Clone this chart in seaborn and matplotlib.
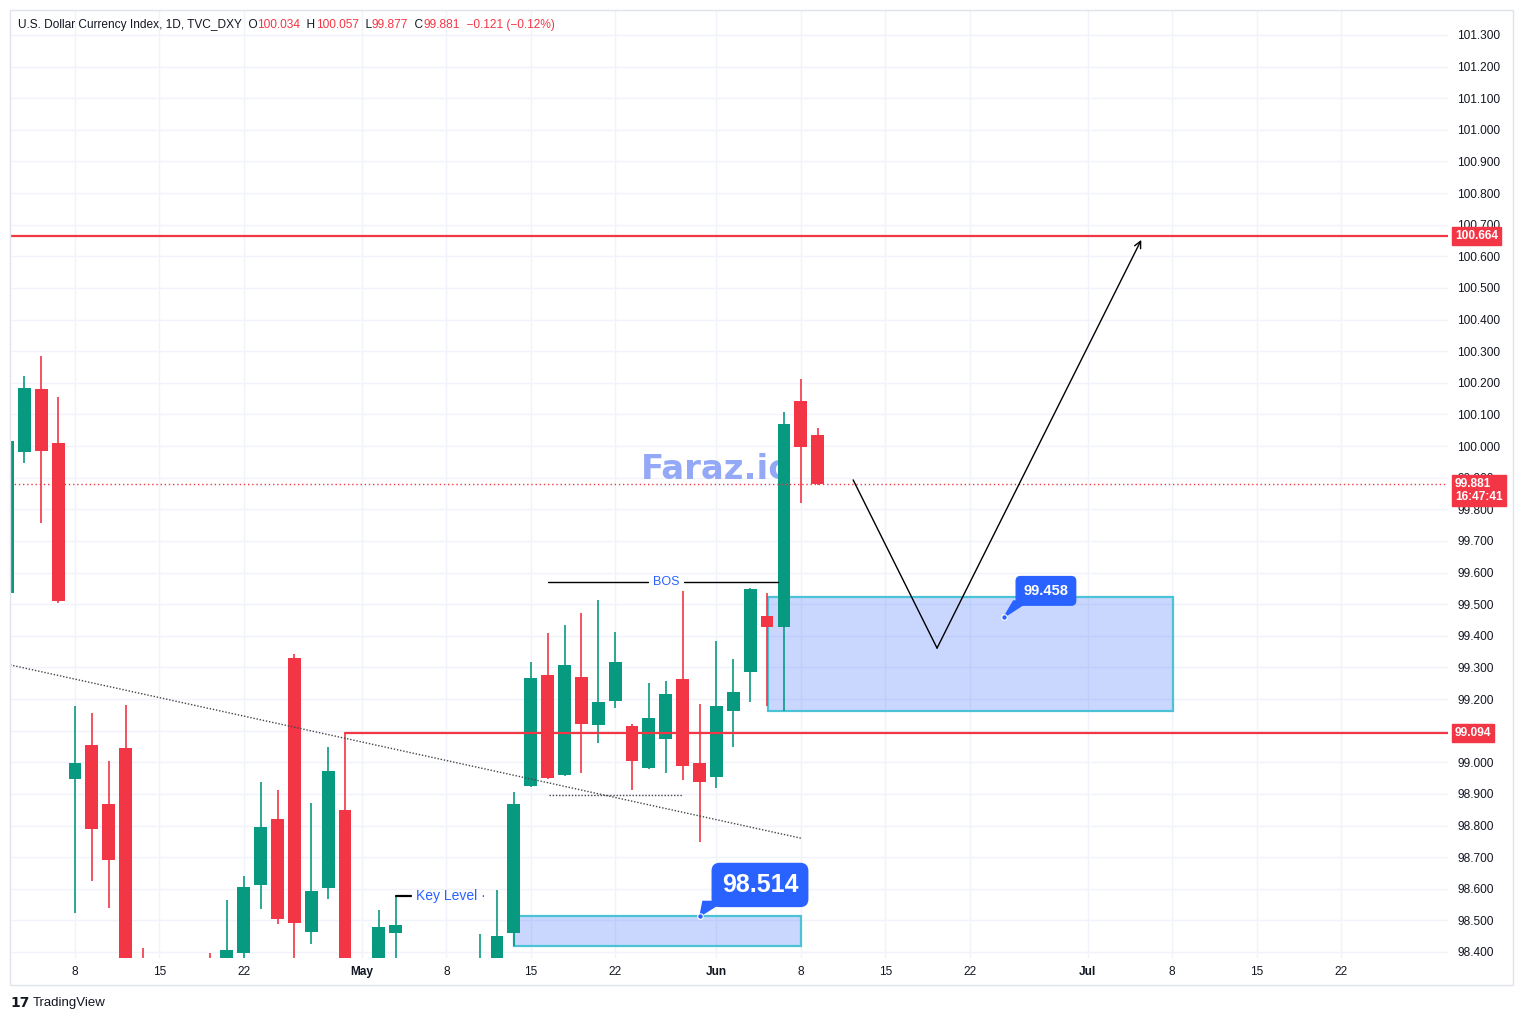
import matplotlib
matplotlib.use("Agg")
import matplotlib.pyplot as plt
import matplotlib.transforms as mtrans
from matplotlib.patches import Rectangle, Polygon
import numpy as np
import pandas as pd
import seaborn as sns

sns.set_style("white")
plt.rcParams['font.family'] = ['Liberation Sans', 'DejaVu Sans']

# ---------------------------------------------------------------------------
# data (bar index 0 = Apr 8, trading days only)
# ---------------------------------------------------------------------------
bar_idx = list(range(-4, 45))
opens = [99.535, 99.982, 100.179, 100.009,
         98.948, 99.054, 98.868, 99.045, 98.300, 97.950, 98.100, 97.950,
         98.300, 98.100, 98.398, 98.613, 98.820, 99.330, 98.464, 98.603,
         98.848, 98.200, 98.250, 98.461, 98.300, 98.100, 98.200, 98.000,
         98.050, 98.200, 98.459, 98.925, 99.276, 98.961, 99.270, 99.119,
         99.195, 99.115, 98.983, 99.075, 99.263, 98.998, 98.954, 99.163,
         99.286, 99.463, 99.429, 100.143, 100.034]
highs = [100.050, 100.222, 100.285, 100.154,
         99.178, 99.157, 99.004, 99.181, 98.412, 98.250, 98.300, 98.200,
         98.397, 98.564, 98.640, 98.937, 98.911, 99.342, 98.870, 99.047,
         99.094, 98.350, 98.533, 98.578, 98.360, 98.300, 98.350, 98.300,
         98.457, 98.596, 98.905, 99.317, 99.410, 99.434, 99.473, 99.513,
         99.413, 99.121, 99.250, 99.257, 99.542, 99.184, 99.383, 99.327,
         99.550, 99.534, 100.108, 100.211, 100.057]
lows = [99.500, 99.945, 99.758, 99.505,
        98.524, 98.625, 98.540, 97.950, 97.850, 97.750, 97.850, 97.700,
        97.900, 98.000, 98.300, 98.535, 98.489, 98.300, 98.425, 98.567,
        98.100, 97.950, 98.150, 98.300, 98.000, 97.900, 97.950, 97.850,
        97.950, 98.100, 98.420, 98.923, 98.946, 98.958, 98.965, 99.062,
        99.173, 98.912, 98.980, 98.967, 98.944, 98.749, 98.920, 99.049,
        99.192, 99.178, 99.162, 99.819, 99.877]
closes = [100.016, 100.183, 99.985, 99.511,
          98.997, 98.790, 98.691, 98.050, 97.950, 98.100, 97.950, 98.050,
          98.050, 98.406, 98.605, 98.794, 98.505, 98.493, 98.592, 98.972,
          98.200, 98.100, 98.478, 98.485, 98.100, 98.200, 98.000, 98.150,
          98.300, 98.450, 98.868, 99.266, 98.951, 99.308, 99.122, 99.191,
          99.317, 99.005, 99.140, 99.216, 98.989, 98.939, 99.178, 99.222,
          99.548, 99.429, 100.070, 99.998, 99.881]

x_tick_pos = [0, 5, 10, 17, 22, 27, 32, 38, 43, 48, 53, 60, 65, 70, 75]
x_tick_labels = ["8", "15", "22", "May", "8", "15", "22", "Jun", "8", "15",
                 "22", "Jul", "8", "15", "22"]
y_ticks = [round(98.4 + 0.1 * k, 1) for k in range(30)]

resistance = 100.664
support = 99.094
last_price = 99.881
bos_level = 99.569
key_level = 98.578
upper_zone = (41.05, 65.05, 99.162, 99.523)
lower_zone = (26.0, 43.0, 98.419, 98.514)
trend_x = [-3.85, 43.0]
trend_y = [99.308, 98.760]
path_x = [46.1, 51.07, 63.17]
path_y = [99.893, 99.361, 100.652]

GREEN = "#089981"
RED = "#F23645"
BLUE = "#2962FF"
TEXT = "#131722"

df = pd.DataFrame({"i": bar_idx, "open": opens, "high": highs,
                   "low": lows, "close": closes})
df["up"] = df["close"] >= df["open"]
df["color"] = np.where(df["up"], GREEN, RED)

# ---------------------------------------------------------------------------
W, H = 1523, 1021
fig = plt.figure(figsize=(W / 100, H / 100), dpi=100)
ax = fig.add_axes([10 / W, 1 - 958 / H, 1438 / W, 948 / H])
ax.set_xlim(-3.85, 81.34)
ax.set_ylim(98.381, 101.379)

# grid
for yv in y_ticks:
    ax.axhline(yv, color="#F0F3FA", lw=1, zorder=0)
for xv in x_tick_pos:
    ax.axvline(xv, color="#F0F3FA", lw=1, zorder=0)

# watermark (sits under the candles)
ax.text(33.5, 99.925, "Faraz.io", color="#93A9F7", fontsize=24.5, weight="bold",
        family=["DejaVu Sans"], ha="left", va="center", zorder=1)

# candles
ax.vlines(df["i"], df["low"], df["high"], colors=df["color"], lw=1.2, zorder=4)
body = (df["close"] - df["open"]).abs().clip(lower=0.004)
ax.bar(df["i"], body, bottom=df[["open", "close"]].min(axis=1), width=0.76,
       color=df["color"], linewidth=0, zorder=4)

# zones
for x0, x1, y0, y1 in [upper_zone, lower_zone]:
    ax.add_patch(Rectangle((x0, y0), x1 - x0, y1 - y0, facecolor=BLUE, alpha=0.25,
                           edgecolor="none", zorder=2))
    ax.add_patch(Rectangle((x0, y0), x1 - x0, y1 - y0, facecolor="none",
                           edgecolor="#4CC2D7", lw=1.6, zorder=3))

# horizontal levels
ax.axhline(resistance, color=RED, lw=1.6, zorder=5)
ax.plot([16, 81.34], [support, support], color=RED, lw=1.6, zorder=5)
ax.axhline(last_price, color=RED, lw=1, ls=(0, (1, 2)), zorder=5)

# trend lines
ax.plot(trend_x, trend_y, color="#444444", lw=1, ls=(0, (1, 1.3)), zorder=5)
ax.plot([28.06, 36.0], [98.898, 98.898], color="#444444", lw=1, ls=(0, (1, 1.3)), zorder=5)

# BOS
ax.plot([28.0, 33.94], [bos_level, bos_level], color="black", lw=1, zorder=5)
ax.plot([36.08, 41.65], [bos_level, bos_level], color="black", lw=1, zorder=5)
ax.text(35.0, bos_level, "BOS", color=BLUE, fontsize=9, ha="center", va="center", zorder=6)

# key level
ax.plot([19.02, 19.9], [key_level, key_level], color="black", lw=1.6, zorder=5)
ax.text(20.2, key_level, "Key Level \u00b7", color=BLUE, fontsize=10, ha="left",
        va="center", zorder=6)

# projected path
ax.plot(path_x[:2], path_y[:2], color="black", lw=1, zorder=6)
ax.annotate("", xy=(path_x[2], path_y[2]), xytext=(path_x[1], path_y[1]),
            arrowprops=dict(arrowstyle="->", color="black", lw=1,
                            shrinkA=0, shrinkB=0, mutation_scale=12), zorder=6)

# callouts
def callout(tx, ty, dot_x, dot_y, base, label, size, pad):
    ax.add_patch(Polygon([(dot_x, dot_y), base[0], base[1]], closed=True,
                         facecolor=BLUE, edgecolor=BLUE, lw=1, zorder=7))
    ax.plot([dot_x], [dot_y], marker="o", ms=4, color=BLUE, mec="white", mew=0.8, zorder=8)
    ax.text(tx, ty, label, color="white", fontsize=size, weight="bold",
            ha="center", va="center", zorder=8,
            bbox=dict(boxstyle="round,pad=%.2f,rounding_size=0.3" % pad, fc=BLUE, ec=BLUE))

callout(57.52, 99.542, 55.04, 99.459, [(55.6, 99.51), (56.5, 99.51)], "99.458", 10.5, 0.5)
callout(40.58, 98.612, 37.03, 98.514, [(37.2, 98.56), (38.4, 98.56)], "98.514", 18, 0.38)

# axes / ticks
for s in ax.spines.values():
    s.set_visible(False)
ax.set_xticks(x_tick_pos)
ax.set_xticklabels(x_tick_labels)
for lab, txt in zip(ax.get_xticklabels(), x_tick_labels):
    if not txt.isdigit():
        lab.set_fontweight("bold")
ax.yaxis.tick_right()
ax.set_yticks(y_ticks)
ax.set_yticklabels(["%.3f" % v for v in y_ticks])
ax.tick_params(axis="both", length=0, labelsize=8.6, colors=TEXT)
ax.tick_params(axis="y", pad=6.5)
ax.tick_params(axis="x", pad=5.5)
ax.set_axisbelow(True)

# price tags on the right axis
tag_tr = mtrans.blended_transform_factory(ax.transAxes, ax.transData)
for val, txt in [(resistance, "100.664"), (support, "99.094"),
                 (last_price - 0.022, "99.881\n16:47:41")]:
    ax.text(1 + 7 / 1438, val, txt, transform=tag_tr, color="white", fontsize=8.6,
            weight="bold", ha="left", va="center", linespacing=1.05, clip_on=False,
            zorder=10, bbox=dict(boxstyle="square,pad=0.25", fc=RED, ec=RED))

# frame
fig.patches.append(Rectangle((10 / W, 1 - 985 / H), 1503 / W, 975 / H,
                             transform=fig.transFigure, fill=False,
                             edgecolor="#E0E3EB", lw=1))

# header line
fig.canvas.draw()
renderer = fig.canvas.get_renderer()
parts = [("U.S. Dollar Currency Index, 1D, TVC_DXY", TEXT), ("  O", TEXT), ("100.034", RED),
         ("  H", TEXT), ("100.057", RED), ("  L", TEXT), ("99.877", RED),
         ("  C", TEXT), ("99.881", RED), ("  \u22120.121 (\u22120.12%)", RED)]
xpix = 18
for txt, col in parts:
    t = fig.text(xpix / W, 1 - 25 / H, txt, color=col, fontsize=8.6, ha="left", va="center")
    xpix += t.get_window_extent(renderer).width

# footer logo
fig.text(10 / W, 1 - 1003 / H, "17", fontsize=10, weight="heavy", color=TEXT,
         family="DejaVu Sans", ha="left", va="center")
fig.text(33 / W, 1 - 1003 / H, "TradingView", fontsize=9.5, color=TEXT,
         ha="left", va="center")

fig.savefig("out.png", dpi=100, facecolor="white")
